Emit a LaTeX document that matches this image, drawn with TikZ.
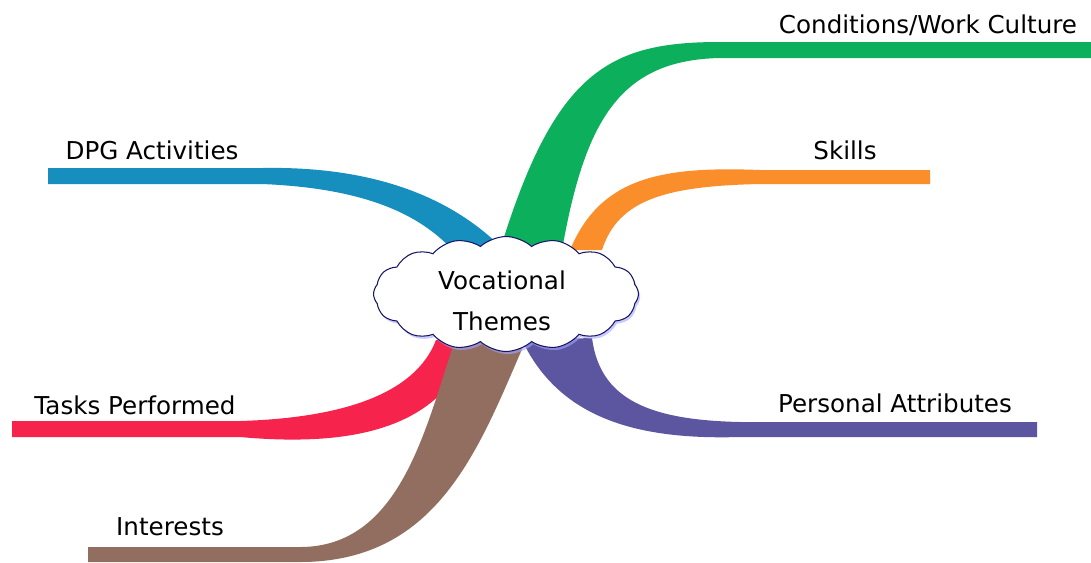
\documentclass[tikz,border=0pt]{standalone}
\usepackage{fontspec}
\setmainfont{DejaVu Sans}
\usetikzlibrary{shapes.symbols,shadows}

\definecolor{dpgblue}{RGB}{22,142,190}
\definecolor{condgreen}{RGB}{12,176,92}
\definecolor{skillorange}{RGB}{250,142,42}
\definecolor{taskred}{RGB}{246,36,76}
\definecolor{intbrown}{RGB}{146,110,96}
\definecolor{attrpurple}{RGB}{92,86,160}
\definecolor{cloudline}{RGB}{24,22,100}

\begin{document}
\begin{tikzpicture}[x=0.02cm, y=-0.02cm,
        lbl/.style={font=\fontsize{14}{17}\selectfont, text=black, inner sep=0pt},
        branch/.style={draw=none}]

        \useasboundingbox (0, 0) rectangle (1091, 562);

        % ribbons, from the thin end to the cloud and back
        \fill[branch, dpgblue] (48, 168) -- (262, 168) .. controls (370, 166) and (450, 195) .. (504, 250)
            -- (456, 254) .. controls (420, 212) and (360, 188) .. (262, 184) -- (48, 184) -- cycle;
        \fill[branch, condgreen] (1091, 42) -- (720, 42) .. controls (610, 42) and (555, 70) .. (500, 250)
            -- (562, 250) .. controls (585, 120) and (620, 60) .. (720, 58) -- (1091, 58) -- cycle;
        \fill[branch, skillorange] (930, 170) -- (760, 170) .. controls (660, 166) and (600, 178) .. (570, 250)
            -- (602, 250) .. controls (618, 200) and (665, 186) .. (760, 184) -- (930, 184) -- cycle;
        \fill[branch, taskred] (12, 421) -- (240, 421) .. controls (340, 418) and (415, 395) .. (436, 340)
            -- (472, 342) .. controls (445, 425) and (360, 448) .. (240, 437) -- (12, 437) -- cycle;
        \fill[branch, intbrown] (88, 547) -- (300, 547) .. controls (400, 547) and (425, 430) .. (455, 340)
            -- (526, 340) .. controls (480, 445) and (440, 562) .. (300, 562) -- (88, 562) -- cycle;
        \fill[branch, attrpurple] (1037, 422) -- (740, 422) .. controls (650, 420) and (600, 400) .. (592, 338)
            -- (522, 340) .. controls (560, 420) and (640, 440) .. (740, 437) -- (1037, 437) -- cycle;

        \node[cloud, cloud puffs=16, cloud puff arc=85, aspect=2.3, draw=cloudline, semithick, fill=white,
            minimum width=5.3cm, minimum height=2.3cm, inner sep=0pt,
            drop shadow={shadow xshift=1pt, shadow yshift=-1.5pt, fill=blue!35, opacity=0.6}]
            (theme) at (506, 294) {};
        \node[lbl, align=center] (themetxt) at (502, 301) {Vocational\\[6pt]Themes};

        \node[lbl] (cond) at (928, 25) {Conditions/Work Culture};
        \node[lbl] (skills) at (845, 150) {Skills};
        \node[lbl] (dpg) at (152, 150) {DPG Activities};
        \node[lbl] (tasks) at (135, 405) {Tasks Performed};
        \node[lbl] (interests) at (170, 527) {Interests};
        \node[lbl] (attrs) at (895, 403) {Personal Attributes};

    \end{tikzpicture}
\end{document}
